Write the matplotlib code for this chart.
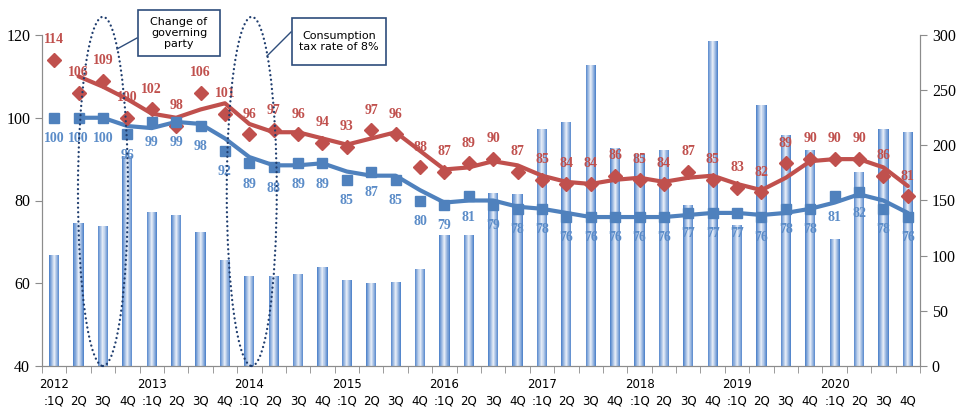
import numpy as np
import pandas as pd
import matplotlib
matplotlib.use('Agg')
import matplotlib.pyplot as plt
from matplotlib.patches import Ellipse, Rectangle
from matplotlib.lines import Line2D
from matplotlib.colors import to_rgb

# Data: 2012 1Q .. 2020 4Q
years = list(range(2012, 2021))
quarters = ['1Q', '2Q', '3Q', '4Q']
red_vals = [114, 106, 109, 100, 102, 98, 106, 101, 96, 97, 96, 94,
            93, 97, 96, 88, 87, 89, 90, 87, 85, 84, 84, 86,
            85, 84, 87, 85, 83, 82, 89, 90, 90, 90, 86, 81]
blue_vals = [100, 100, 100, 96, 99, 99, 98, 92, 89, 88, 89, 89,
             85, 87, 85, 80, 79, 81, 79, 78, 78, 76, 76, 76,
             76, 76, 77, 77, 77, 76, 78, 78, 81, 82, 78, 76]
bar_vals = [101, 130, 127, 190, 140, 137, 121, 96, 82, 82, 83, 90,
            78, 75, 76, 88, 119, 119, 157, 156, 215, 221, 273, 198,
            192, 196, 146, 295, 128, 237, 209, 196, 115, 176, 215, 212]

labels = []
for y in years:
    for q in quarters:
        labels.append(f'{y}\n:1Q' if q == '1Q' else f'\n{q}')

RED = '#C0504D'
BLUE = '#4F81BD'
BLUE_TXT = '#5B8CC8'
ELL = '#1F3D6E'
SPINE = '#8C8C8C'

x = np.arange(len(red_vals))
red_ma = pd.Series(red_vals).rolling(2).mean()
blue_ma = pd.Series(blue_vals).rolling(2).mean()

fig = plt.figure(figsize=(9.69, 4.08), dpi=100)
ax = fig.add_axes([42 / 969, 1 - 366 / 408, (920 - 42) / 969, (366 - 35) / 408])
ax2 = ax.twinx()

# gradient bars on the right axis
c0 = np.array(to_rgb('#5587CC'))
c1 = np.array(to_rgb('#E2EAF6'))
n = 10
for k in range(n):
    t = k / (n - 1)
    w = 0.42 * (1 - k / n)
    ax2.bar(x, bar_vals, width=w, color=c0 * (1 - t) + c1 * t, linewidth=0, zorder=1)
ax2.set_ylim(0, 300)
ax2.set_yticks(range(0, 301, 50))

# lines on left axis
ax.set_zorder(ax2.get_zorder() + 1)
ax.patch.set_visible(False)
ax.plot(x, red_ma, color=RED, lw=3, solid_capstyle='round', zorder=3)
ax.plot(x, blue_ma, color=BLUE, lw=3, solid_capstyle='round', zorder=3)
ax.plot(x, red_vals, 'D', color=RED, ms=7, zorder=4)
ax.plot(x, blue_vals, 's', color=BLUE, ms=7.5, zorder=4)
for i in x:
    ax.annotate(str(red_vals[i]), (i, red_vals[i]), xytext=(0, 14.5), textcoords='offset points',
                ha='center', va='center', color=RED, fontsize=10, fontweight='bold',
                family='Liberation Serif', zorder=5)
    ax.annotate(str(blue_vals[i]), (i, blue_vals[i]), xytext=(0, -15), textcoords='offset points',
                ha='center', va='center', color=BLUE_TXT, fontsize=10, fontweight='bold',
                family='Liberation Serif', zorder=5)

ax.set_xlim(-0.5, len(x) - 0.5)
ax.set_ylim(40, 120)
ax.set_yticks(range(40, 121, 20))
ax.set_xticks(x)
ax.set_xticklabels(labels, fontsize=8.5, family='DejaVu Sans', linespacing=1.35)
ax.set_xticks(np.arange(-0.5, len(x), 1), minor=True)
ax.tick_params(axis='x', which='major', length=0, pad=9)
ax.tick_params(axis='x', which='minor', length=5, color=SPINE)
ax.tick_params(axis='y', length=5, color=SPINE, labelsize=11.5)
ax2.tick_params(axis='y', length=5, color=SPINE, labelsize=11.5)
for a in (ax, ax2):
    for lab in a.get_yticklabels():
        lab.set_family('Liberation Serif')
    a.spines['top'].set_visible(False)
    for s in ('left', 'right', 'bottom'):
        a.spines[s].set_color(SPINE)

# dotted ellipses
for cx in (2.0, 8.1):
    ax.add_patch(Ellipse((cx, 82.2), 2.05, 84.4, fill=False, edgecolor=ELL, lw=1.7,
                         linestyle=(0, (0.01, 1.95)), capstyle='round', clip_on=False, zorder=6))

# callout boxes
def px(xp, yp):
    return xp / 969, 1 - yp / 408

for (x0, y0, x1, y1, txt) in [(138, 10, 220, 56, 'Change of\ngoverning\nparty'),
                              (292, 18, 386, 65, 'Consumption\ntax rate of 8%')]:
    fx, fy = px(x0, y1)
    fig.patches.append(Rectangle((fx, fy), (x1 - x0) / 969, (y1 - y0) / 408, transform=fig.transFigure,
                                 facecolor='white', edgecolor='#2E4D7B', lw=1.2, zorder=7))
    cx, cy = px((x0 + x1) / 2, (y0 + y1) / 2)
    fig.text(cx, cy, txt, ha='center', va='center', fontsize=8, family='DejaVu Sans',
             linespacing=1.15, zorder=8)

for (xa, ya, xb, yb) in [(137, 38, 117, 49), (291, 32, 267, 56)]:
    a = px(xa, ya)
    b = px(xb, yb)
    fig.lines.append(Line2D([a[0], b[0]], [a[1], b[1]], transform=fig.transFigure,
                            color='#2E4D7B', lw=1))

fig.savefig('out.png', dpi=100)
